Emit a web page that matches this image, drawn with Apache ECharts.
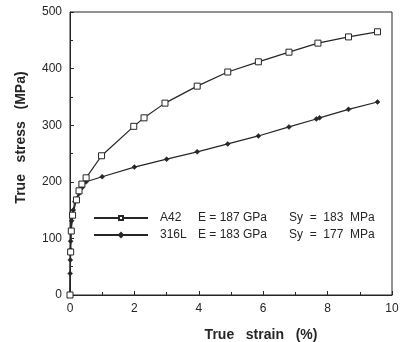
<!DOCTYPE html>
<html>
<head>
<meta charset="utf-8">
<script src="https://cdn.jsdelivr.net/npm/echarts@6/dist/echarts.min.js"></script>
<style>
  html, body { margin: 0; padding: 0; background: #fff; }
  #chart { width: 400px; height: 342px; }
</style>
</head>
<body>
<div id="chart"></div>
<script>
// values
const seriesNames = ['A42', '316L'];
const modulusGPa = ['187', '183'];
const yieldMPa = ['183', '177'];

const a42Strain = [0, 0.02, 0.04, 0.08, 0.2, 0.28, 0.37, 0.5, 0.98, 1.98, 2.3, 2.95, 3.95, 4.9, 5.85, 6.8, 7.7, 8.65, 9.55];
const a42Stress = [0, 76, 113, 141, 168, 184, 196, 207, 246, 298, 313, 339, 369, 394, 412, 429, 445, 456, 465];

const s316Strain = [0, 0.005, 0.01, 0.015, 0.02, 0.03, 0.05, 0.1, 0.15, 0.22, 0.3, 0.38, 0.5, 1.0, 2.0, 3.0, 3.95, 4.9, 5.85, 6.8, 7.65, 7.75, 8.65, 9.55];
const s316Stress = [0, 38, 62, 80, 95, 115, 131, 150, 165, 170, 180, 190, 200, 209, 226, 240, 253, 267, 281, 297, 311, 313, 328, 341];

const xTicks = { min: 0, max: 10, interval: 2 };
const yTicks = { min: 0, max: 500, interval: 100 };

const zip = (xs, ys) => xs.map((x, i) => [x, ys[i]]);

const chart = echarts.init(document.getElementById('chart'), null, { renderer: 'canvas' });

const ink = '#262626';
const font = '"Liberation Sans", Arial, sans-serif';

const axisCommon = {
  axisLine: { show: true, lineStyle: { color: ink, width: 1 } },
  axisTick: { show: true, inside: true, length: 4, lineStyle: { color: ink } },
  minorTick: { show: true, splitNumber: 2, length: 3, lineStyle: { color: ink } },
  splitLine: { show: false },
  axisLabel: { color: ink, fontSize: 12, fontFamily: font },
  nameTextStyle: { color: ink, fontSize: 14, fontWeight: 'bold', fontFamily: font }
};

const option = {
  backgroundColor: '#fff',
  animation: false,
  grid: {
    left: 70, right: 8, top: 12, bottom: 47,
    outerBoundsMode: 'none',
    containLabel: false,
    show: true, borderColor: ink, borderWidth: 1, backgroundColor: 'transparent'
  },
  legend: {
    orient: 'vertical',
    left: 88,
    top: 207,
    itemWidth: 54,
    itemHeight: 5,
    itemGap: 5,
    data: seriesNames,
    formatter: (name) => {
      const i = seriesNames.indexOf(name);
      return '{n|' + name + '}{e|E = ' + modulusGPa[i] + ' GPa}{s|Sy  =  ' + yieldMPa[i] + '  MPa}';
    },
    textStyle: {
      color: ink,
      fontFamily: font,
      fontSize: 12,
      padding: [0, 0, 0, 7],
      rich: {
        n: { width: 38, fontSize: 12, fontFamily: font, color: ink },
        e: { width: 91, fontSize: 12, fontFamily: font, color: ink },
        s: { fontSize: 12, fontFamily: font, color: ink }
      }
    }
  },
  xAxis: Object.assign({}, axisCommon, {
    type: 'value',
    min: xTicks.min, max: xTicks.max, interval: xTicks.interval,
    name: 'True   strain   (%)',
    nameLocation: 'middle',
    nameGap: 33,
    nameTextStyle: Object.assign({}, axisCommon.nameTextStyle, { padding: [0, 0, 0, 60] }),
    axisLabel: Object.assign({}, axisCommon.axisLabel, { margin: 8 })
  }),
  yAxis: Object.assign({}, axisCommon, {
    type: 'value',
    min: yTicks.min, max: yTicks.max, interval: yTicks.interval,
    name: 'True   stress   (MPa)',
    nameLocation: 'middle',
    nameGap: 42,
    nameTextStyle: Object.assign({}, axisCommon.nameTextStyle, { padding: [0, 0, 0, 32] }),
    axisLabel: Object.assign({}, axisCommon.axisLabel, { margin: 8 })
  }),
  series: [
    {
      name: seriesNames[0],
      type: 'line',
      data: zip(a42Strain, a42Stress),
      symbol: 'rect',
      symbolSize: 6,
      showAllSymbol: true,
      lineStyle: { color: ink, width: 1.2 },
      itemStyle: { color: '#fff', borderColor: ink, borderWidth: 1 },
      z: 3
    },
    {
      name: seriesNames[1],
      type: 'line',
      data: zip(s316Strain, s316Stress),
      symbol: 'diamond',
      symbolSize: 5,
      showAllSymbol: true,
      lineStyle: { color: ink, width: 1.2 },
      itemStyle: { color: ink, borderColor: ink, borderWidth: 0.5 },
      z: 2
    }
  ]
};

chart.setOption(option);
</script>
</body>
</html>
